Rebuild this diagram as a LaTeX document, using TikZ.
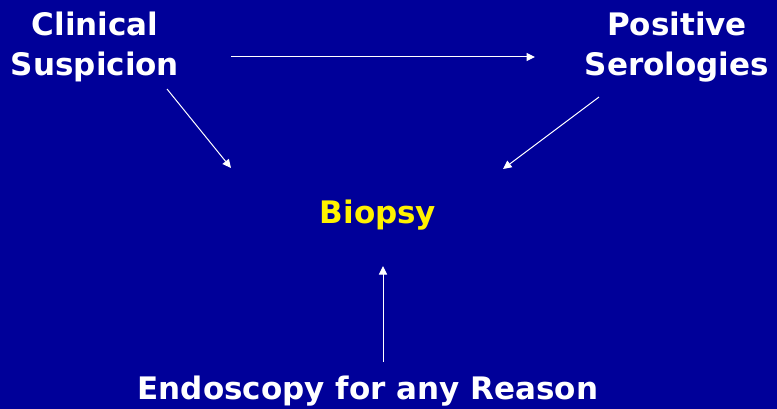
\documentclass[tikz,border=0pt]{standalone}
\usepackage{fontspec}
\setmainfont{DejaVu Sans}
\usetikzlibrary{arrows.meta}
\definecolor{slidebg}{RGB}{0,0,153}
\begin{document}
\begin{tikzpicture}[
    x=1pt, y=-1pt,
    >={Triangle[length=8.5pt,width=8pt]},
    lbl/.style={
        text=white,
        font=\fontsize{31}{40}\selectfont\bfseries,
        align=center,
        anchor=base,
        inner sep=0pt
    },
    arr/.style={->, white, line width=1pt}
]
    \useasboundingbox (0,0) rectangle (777,409);
    \fill[slidebg] (0,0) rectangle (777,409);

    \node[lbl] (susp) at (95,76) {Clinical\\Suspicion};
    \node[lbl] (sero) at (677,76) {Positive\\Serologies};
    \node[lbl, text=yellow] (biopsy) at (378,223) {Biopsy};
    \node[lbl] (endo) at (368,399) {Endoscopy for any Reason};

    \coordinate (suspR) at (231,57);
    \coordinate (seroL) at (535,57);
    \coordinate (suspD) at (167,89);
    \coordinate (biopL) at (231,168);
    \coordinate (seroD) at (599,97);
    \coordinate (biopR) at (503,169);
    \coordinate (endoU) at (383,362);
    \coordinate (biopD) at (383,266);

    \draw[arr] (suspR) -- (seroL);
    \draw[arr] (suspD) -- (biopL);
    \draw[arr] (seroD) -- (biopR);
    \draw[arr] (endoU) -- (biopD);
\end{tikzpicture}
\end{document}
